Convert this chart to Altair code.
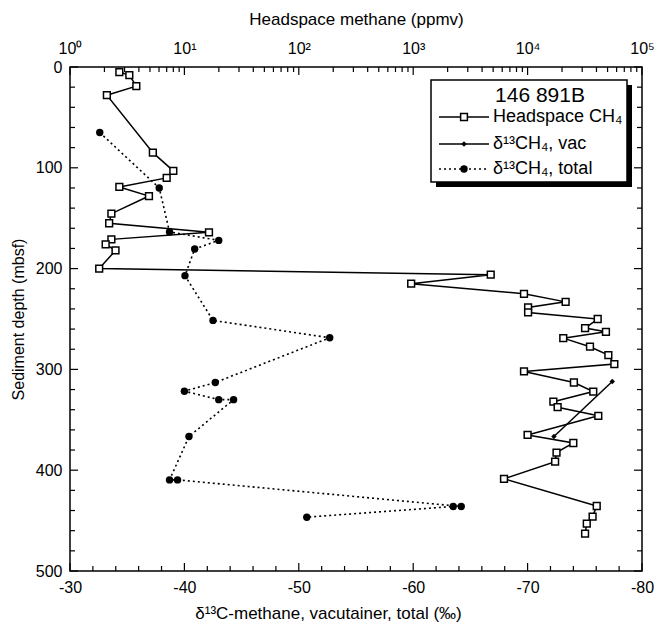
import altair as alt
import pandas as pd

# ---------------- data ----------------
head_depth = [5, 8, 19, 28, 85, 103, 110, 119, 128, 145.5, 155, 164, 171, 176, 182, 200,
              206, 215, 225, 233, 238.5, 243.5, 250, 259, 262.7, 269, 277.5, 285.8, 294.7,
              302, 313, 322, 332, 337.5, 346, 365, 373, 382.5, 391.5, 408.5, 435.5, 446, 453, 463]
head_ppmv = [2.7, 3.3, 3.8, 2.1, 5.3, 8.0, 7.0, 2.7, 4.9, 2.3, 2.2, 16.4, 2.3, 2.05, 2.5, 1.8,
             4760, 960, 9300, 21500, 10100, 10100, 41000, 31800, 48400, 20500, 35100, 50800, 57300,
             9300, 25400, 37500, 16800, 18300, 41500, 10000, 25100, 17900, 17400, 6220, 40200, 37000, 32900, 31800]

vac_depth = [312, 366.5]
vac_d13c = [-77.4, -72.3]

tot_depth = [65, 120, 163.6, 172, 180.5, 207, 251.4, 268.6, 313, 321.6, 330, 330, 366.6,
             409.6, 409.6, 436, 436, 446.6]
tot_d13c = [-32.6, -37.8, -38.7, -43.0, -40.9, -40.05, -42.5, -52.7, -42.7, -40.0, -43.0, -44.3, -40.4,
            -38.7, -39.4, -64.2, -63.5, -50.7]

depth_labels = [0, 100, 200, 300, 400, 500]
d13c_labels = [-30, -40, -50, -60, -70, -80]
ppmv_labels = [1, 10, 100, 1000, 10000, 100000]

depth_minor = [v for v in range(0, 501, 20) if v % 100 != 0]
d13c_minor = [-v for v in range(30, 81, 2) if v % 10 != 0]
ppmv_minor = [k * 10 ** d for d in range(5) for k in range(2, 10)]

legend_title = "146 891B"
legend_labels = ["Headspace CH\u2084", "\u03b4\u00b9\u00b3CH\u2084, vac", "\u03b4\u00b9\u00b3CH\u2084, total"]

# ---------------- tables ----------------
head_df = pd.DataFrame({"depth": head_depth, "ppmv": head_ppmv, "i": range(len(head_depth))})
vac_df = pd.DataFrame({"depth": vac_depth, "d13c": vac_d13c, "i": range(len(vac_depth))})
tot_df = pd.DataFrame({"depth": tot_depth, "d13c": tot_d13c, "i": range(len(tot_depth))})
one = pd.DataFrame({"k": [0]})

W, H = 572, 504
FONT = "Liberation Sans"

yscale = alt.Scale(domain=[0, 500], reverse=True, nice=False, zero=False)
dscale = alt.Scale(domain=[-80, -30], reverse=True, nice=False, zero=False)
lscale = alt.Scale(type="log", domain=[1, 100000], nice=False)

Y = alt.Y("depth:Q", scale=yscale,
          axis=alt.Axis(title="Sediment depth (mbsf)", values=depth_labels, ticks=False,
                        domain=False, grid=False, labelPadding=8, titlePadding=9,
                        labelFlush=False, titleFontSize=16, titleColor="black"))

XD = alt.X("d13c:Q", scale=dscale,
           axis=alt.Axis(title="\u03b4\u00b9\u00b3C-methane, vacutainer, total (\u2030)",
                         orient="bottom", values=d13c_labels, ticks=False, domain=False,
                         grid=False, labelPadding=8, titlePadding=10, labelFlush=False,
                         labelExpr="replace(datum.label, '\u2212', '-')", titleX=258,
                         titleFontSize=17, titleColor="black"))

XL = alt.X("ppmv:Q", scale=lscale,
           axis=alt.Axis(title="Headspace methane (ppmv)", orient="top", values=ppmv_labels,
                         ticks=False, domain=False, grid=False, labelPadding=11, titlePadding=12,
                         labelFlush=False, titleFontSize=17, titleColor="black",
                         labelExpr="'10' + ['\u2070','\u00b9','\u00b2','\u00b3','\u2074','\u2075'][round(log(datum.value)/LN10)]"))

# ---------------- delta (bottom axis) layers ----------------
tot_line = alt.Chart(tot_df).mark_line(color="black", strokeWidth=1.6, strokeDash=[2, 3]).encode(
    x=XD, y=Y, order="i:Q")
tot_pts = alt.Chart(tot_df).mark_circle(color="black", size=55, opacity=1).encode(x=XD, y=Y)
vac_line = alt.Chart(vac_df).mark_line(color="black", strokeWidth=1.5).encode(
    x=XD, y=Y, order="i:Q")
vac_pts = alt.Chart(vac_df).mark_point(shape="diamond", filled=True, color="black", size=30,
                                       opacity=1).encode(x=XD, y=Y)

def tick_x_bottom(vals, length):
    df = pd.DataFrame({"d13c": vals})
    return alt.Chart(df).mark_rule(color="black", strokeWidth=1.2).encode(
        x=XD, y=alt.value(H), y2=alt.value(H - length))

def tick_y(vals, xpos, x2pos):
    df = pd.DataFrame({"depth": vals})
    return alt.Chart(df).mark_rule(color="black", strokeWidth=1.2).encode(
        y=Y, x=alt.value(xpos), x2=alt.value(x2pos))

delta_layer = alt.layer(
    tot_line, tot_pts, vac_line, vac_pts,
    tick_x_bottom(d13c_minor, 5), tick_x_bottom(d13c_labels, 8),
    tick_y(depth_minor, 0, 5), tick_y(depth_labels, 0, 8),
    tick_y(depth_minor, W, W - 5), tick_y(depth_labels, W, W - 8),
)

# ---------------- headspace (top log axis) layers ----------------
head_line = alt.Chart(head_df).mark_line(color="black", strokeWidth=1.5).encode(
    x=XL, y=Y, order="i:Q")
head_pts = alt.Chart(head_df).mark_square(size=46, fill="white", stroke="black", strokeWidth=1.5,
                                         opacity=1).encode(x=XL, y=Y)

def tick_x_top(vals, length):
    df = pd.DataFrame({"ppmv": vals})
    return alt.Chart(df).mark_rule(color="black", strokeWidth=1.2).encode(
        x=XL, y=alt.value(0), y2=alt.value(length))

head_layer = alt.layer(head_line, head_pts, tick_x_top(ppmv_minor, 5), tick_x_top(ppmv_labels, 8))

# ---------------- legend box ----------------
BX0, BX1, BY0, BY1 = 361, 557, 13, 115
shadow = alt.Chart(one).mark_rect(color="black").encode(
    x=alt.value(BX0 + 5), x2=alt.value(BX1 + 5), y=alt.value(BY0 + 5), y2=alt.value(BY1 + 5))
box = alt.Chart(one).mark_rect(fill="white", stroke="black", strokeWidth=1.5).encode(
    x=alt.value(BX0), x2=alt.value(BX1), y=alt.value(BY0), y2=alt.value(BY1))
ltitle = alt.Chart(one).mark_text(text=legend_title, fontSize=21, font=FONT, align="center",
                                  baseline="middle", color="black").encode(
    x=alt.value(470), y=alt.value(29))

rows = [50, 77, 102]
LX0, LX1, LM, TX = 369, 419, 394, 423
leg = [shadow, box, ltitle]
for r, lab, kind in zip(rows, legend_labels, ["head", "vac", "tot"]):
    if kind == "tot":
        ln = alt.Chart(one).mark_rule(color="black", strokeWidth=1.5, strokeDash=[2, 3]).encode(
            x=alt.value(LX0), x2=alt.value(LX1), y=alt.value(r))
        mk = alt.Chart(one).mark_circle(color="black", size=55, opacity=1).encode(
            x=alt.value(LM), y=alt.value(r))
    elif kind == "vac":
        ln = alt.Chart(one).mark_rule(color="black", strokeWidth=1.5).encode(
            x=alt.value(LX0), x2=alt.value(LX1), y=alt.value(r))
        mk = alt.Chart(one).mark_point(shape="diamond", filled=True, color="black", size=30,
                                       opacity=1).encode(x=alt.value(LM), y=alt.value(r))
    else:
        ln = alt.Chart(one).mark_rule(color="black", strokeWidth=1.5).encode(
            x=alt.value(LX0), x2=alt.value(LX1), y=alt.value(r))
        mk = alt.Chart(one).mark_square(size=46, fill="white", stroke="black", strokeWidth=1.5,
                                       opacity=1).encode(x=alt.value(LM), y=alt.value(r))
    tx = alt.Chart(one).mark_text(text=lab, fontSize=18, font=FONT, align="left",
                                  baseline="middle", color="black").encode(
        x=alt.value(TX), y=alt.value(r))
    leg += [ln, mk, tx]

legend_layer = alt.layer(*leg)

chart = alt.layer(delta_layer, head_layer, legend_layer).resolve_scale(x="independent").properties(
    width=W, height=H,
    autosize=alt.AutoSizeParams(type="none"),
    padding={"left": 70, "top": 67, "right": 15, "bottom": 54},
    background="white",
).configure_view(stroke="black", strokeWidth=1.5).configure_axis(
    labelFont=FONT, titleFont=FONT, labelFontSize=16, titleFontSize=16,
    labelColor="black", titleColor="black", titleFontWeight="normal",
)

chart.save("out.html", embed_options={"renderer": "svg", "actions": False})
